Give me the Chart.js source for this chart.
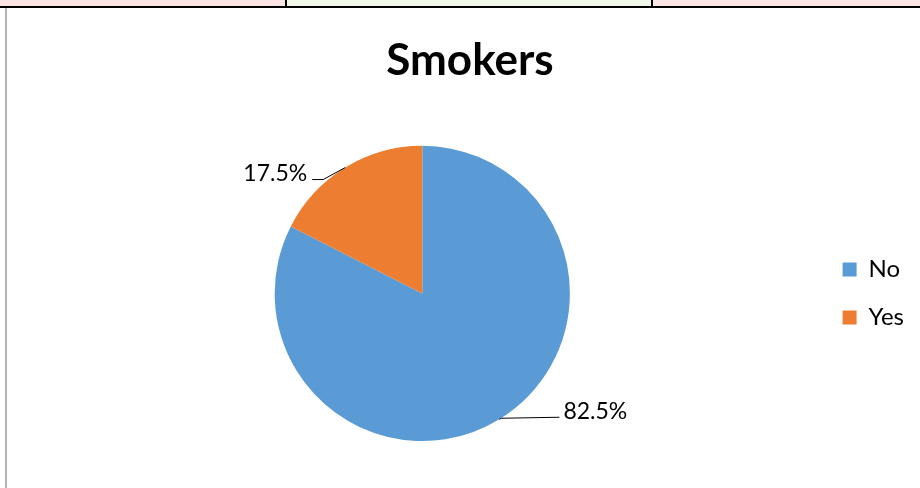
<!DOCTYPE html>
<html>
<head>
<meta charset="utf-8">
<script src="https://cdn.jsdelivr.net/npm/chart.js@4.4.1/dist/chart.umd.min.js"></script>
<style>
  html, body { margin: 0; padding: 0; background: #fff; }
  #page { position: relative; width: 920px; height: 488px; overflow: hidden; }
  #strip { position: absolute; left: 0; top: 0; width: 920px; height: 6px; display: flex; border-bottom: 2px solid #000; }
  #strip div { height: 6px; }
  #frame { position: absolute; left: 5px; top: 8px; width: 2px; height: 480px; background: #b4b4b4; }
  #wrap { position: absolute; left: 0; top: 0; width: 920px; height: 488px; }
</style>
</head>
<body>
<div id="page">
  <div id="strip">
    <div style="width:285px;background:#fbe3e3;border-right:2px solid #000"></div>
    <div style="width:364px;background:#f1f8ea;border-right:2px solid #000"></div>
    <div style="flex:1;background:#fbe6e6"></div>
  </div>
  <div id="frame"></div>
  <div id="wrap"><canvas id="pizza"></canvas></div>
</div>
<script>
const categories = ['No', 'Yes'];
const shares = [82.5, 17.5];
const colors = ['#5b9bd5', '#ed7d31'];

// rotulos com linha de chamada (estilo Excel)
const leaderLabels = {
  id: 'leaderLabels',
  afterDatasetsDraw(chart, args, opts) {
    const c = chart.ctx;
    const arcs = chart.getDatasetMeta(0).data;
    c.save();
    c.font = opts.font;
    c.fillStyle = '#000';
    c.strokeStyle = '#000';
    c.lineWidth = 1;
    arcs.forEach((arc, i) => {
      const p = arc.getProps(['x', 'y', 'startAngle', 'endAngle', 'outerRadius'], true);
      const mid = (p.startAngle + p.endAngle) / 2;
      const ex = p.x + Math.cos(mid) * p.outerRadius;
      const ey = p.y + Math.sin(mid) * p.outerRadius;
      const o = opts.offsets[i];
      const bx = ex + o.elbow[0], by = ey + o.elbow[1];
      const tx = bx + o.end[0], ty = by + o.end[1];
      c.beginPath();
      c.moveTo(ex, ey);
      c.lineTo(bx, by);
      c.lineTo(tx, ty);
      c.stroke();
      const txt = shares[i].toFixed(1) + '%';
      c.textBaseline = 'middle';
      if (o.end[0] < 0) {
        c.textAlign = 'right';
        c.fillText(txt, tx - 5, ty - 6);
      } else {
        c.textAlign = 'left';
        c.fillText(txt, tx + 4, ty - 6);
      }
    });
    c.restore();
  }
};

const ctx = document.getElementById('pizza');
new Chart(ctx, {
  type: 'pie',
  data: {
    labels: categories,
    datasets: [{
      data: shares,
      backgroundColor: colors,
      borderWidth: 0
    }]
  },
  options: {
    responsive: true,
    maintainAspectRatio: false,
    animation: false,
    layout: { padding: { left: 26, right: 6, bottom: 47 } },
    plugins: {
      title: {
        display: true,
        text: 'Smokers',
        color: '#000',
        font: { family: 'Lato', size: 44, weight: 'bold' },
        padding: { top: 34, bottom: 59 }
      },
      legend: {
        position: 'right',
        fullSize: false,
        labels: {
          color: '#000',
          font: { family: 'Lato', size: 24 },
          boxWidth: 14,
          boxHeight: 14,
          padding: 24
        }
      },
      tooltip: { enabled: false },
      leaderLabels: {
        font: '23px Lato',
        offsets: [
          { elbow: [2, -1], end: [58, -1] },
          { elbow: [-22, 12], end: [-11, 0] }
        ]
      }
    }
  },
  plugins: [leaderLabels]
});
</script>
</body>
</html>
